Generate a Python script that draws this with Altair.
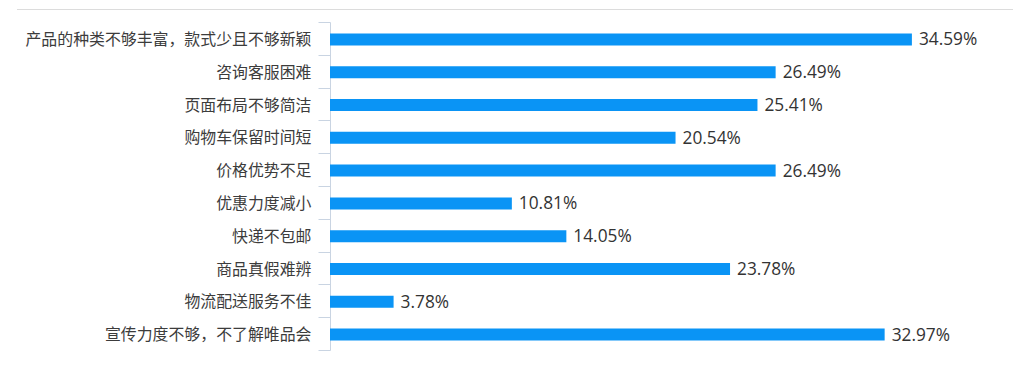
import altair as alt
import pandas as pd

categories = [
    "产品的种类不够丰富，款式少且不够新颖",
    "咨询客服困难",
    "页面布局不够简洁",
    "购物车保留时间短",
    "价格优势不足",
    "优惠力度减小",
    "快递不包邮",
    "商品真假难辨",
    "物流配送服务不佳",
    "宣传力度不够，不了解唯品会",
]
values = [34.59, 26.49, 25.41, 20.54, 26.49, 10.81, 14.05, 23.78, 3.78, 32.97]

df = pd.DataFrame({"cat": categories, "value": values})

W, H = 683, 328

base = alt.Chart(df).encode(
    y=alt.Y(
        "cat:N",
        sort=None,
        title=None,
        scale=alt.Scale(paddingInner=0, paddingOuter=0),
        axis=alt.Axis(
            domainColor="#c9d4e2",
            tickColor="#c9d4e2",
            tickBand="extent",
            tickSize=12,
            labelPadding=7,
            labelFont="Noto Sans CJK SC",
            labelFontSize=15.9,
            labelColor="#3c3c3c",
            labelLimit=400,
            labelOffset=1,
            grid=False,
        ),
    ),
    x=alt.X("value:Q", axis=None, scale=alt.Scale(domain=[0, 40.6], nice=False)),
)

bars = base.mark_bar(size=12, color="#0a94f5", yOffset=1)

text = base.transform_calculate(
    label="format(datum.value, '.2f') + '%'"
).mark_text(
    align="left", baseline="middle", dx=7, dy=2, font="Open Sans", fontSize=17.3, color="#333333"
).encode(text="label:N")

top_rule = alt.Chart(df).mark_rule(color="#dcdcdc", strokeWidth=1).encode(
    x=alt.value(-313), x2=alt.value(683), y=alt.value(-12.5)
)

chart = alt.layer(bars, text, top_rule).properties(
    width=W,
    height=H,
    autosize=alt.AutoSizeParams(type="none"),
    padding={"left": 322, "top": 14, "right": 7, "bottom": 12},
).configure_view(stroke=None)

chart.save("out.html", embed_options={"renderer": "svg", "actions": False})
